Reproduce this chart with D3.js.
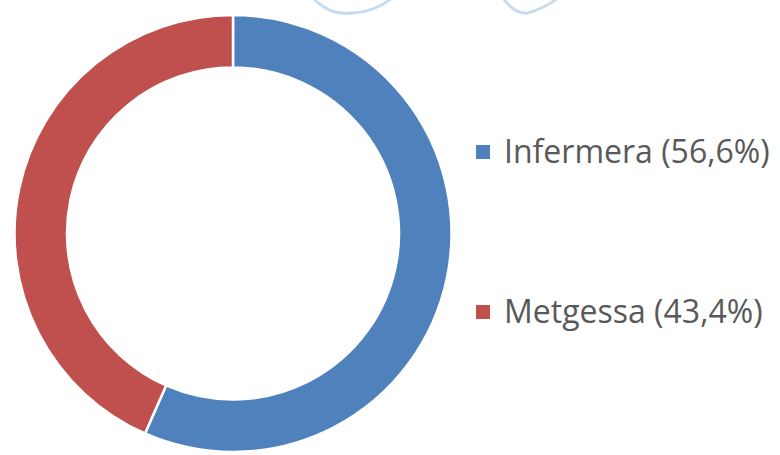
<!DOCTYPE html>
<html>
<head>
<meta charset="utf-8">
<script src="https://cdn.jsdelivr.net/npm/d3@7"></script>
<style>
  body { margin: 0; background: #fff; }
  svg { display: block; }
</style>
</head>
<body>
<svg id="chart"></svg>
<script>
const WIDTH = 780;
const HEIGHT = 455;

const categories = ["Infermera", "Metgessa"];
const values = [56.6, 43.4];
const labels = ["Infermera (56,6%)", "Metgessa (43,4%)"];
const colors = ["#4f81bd", "#c0504d"];

const svg = d3.select("#chart").attr("width", WIDTH).attr("height", HEIGHT);

const data = categories.map((c, i) => ({ cat: c, value: values[i], label: labels[i], color: colors[i] }));

// faint background scribbles peeking in at the top edge
const deco = svg.append("g").attr("fill", "none").attr("stroke", "#c3dbf0").attr("stroke-width", 2.8);
deco.append("path").attr("d", "M313,-2 Q330,16 352,13 Q375,12 392,-2");
deco.append("path").attr("d", "M503,-2 Q515,15 528,13 Q545,8 558,-2");

const cx = 233;
const cy = 233.5;
const outerR = 218.5;
const innerR = 166;

const pie = d3.pie().value((d) => d.value).sort(null);
const arc = d3.arc().innerRadius(innerR).outerRadius(outerR);

svg.append("g")
  .attr("transform", `translate(${cx}, ${cy})`)
  .selectAll("path")
  .data(pie(data))
  .join("path")
  .attr("d", arc)
  .attr("fill", (d) => d.data.color)
  .attr("stroke", "#fff")
  .attr("stroke-width", 2.5);

// legend
const legendY = d3.scalePoint().domain(categories).range([152, 312]);

const legend = svg.append("g")
  .selectAll("g")
  .data(data)
  .join("g")
  .attr("transform", (d) => `translate(476, ${legendY(d.cat)})`);

legend.append("rect")
  .attr("x", 0)
  .attr("y", -7)
  .attr("width", 14)
  .attr("height", 14)
  .attr("fill", (d) => d.color);

legend.append("text")
  .attr("x", 28)
  .attr("y", 0)
  .attr("dy", "0.35em")
  .attr("font-family", "'Open Sans', 'Noto Sans', sans-serif")
  .attr("font-size", "32px")
  .attr("fill", "#595959")
  .text((d) => d.label);
</script>
</body>
</html>
